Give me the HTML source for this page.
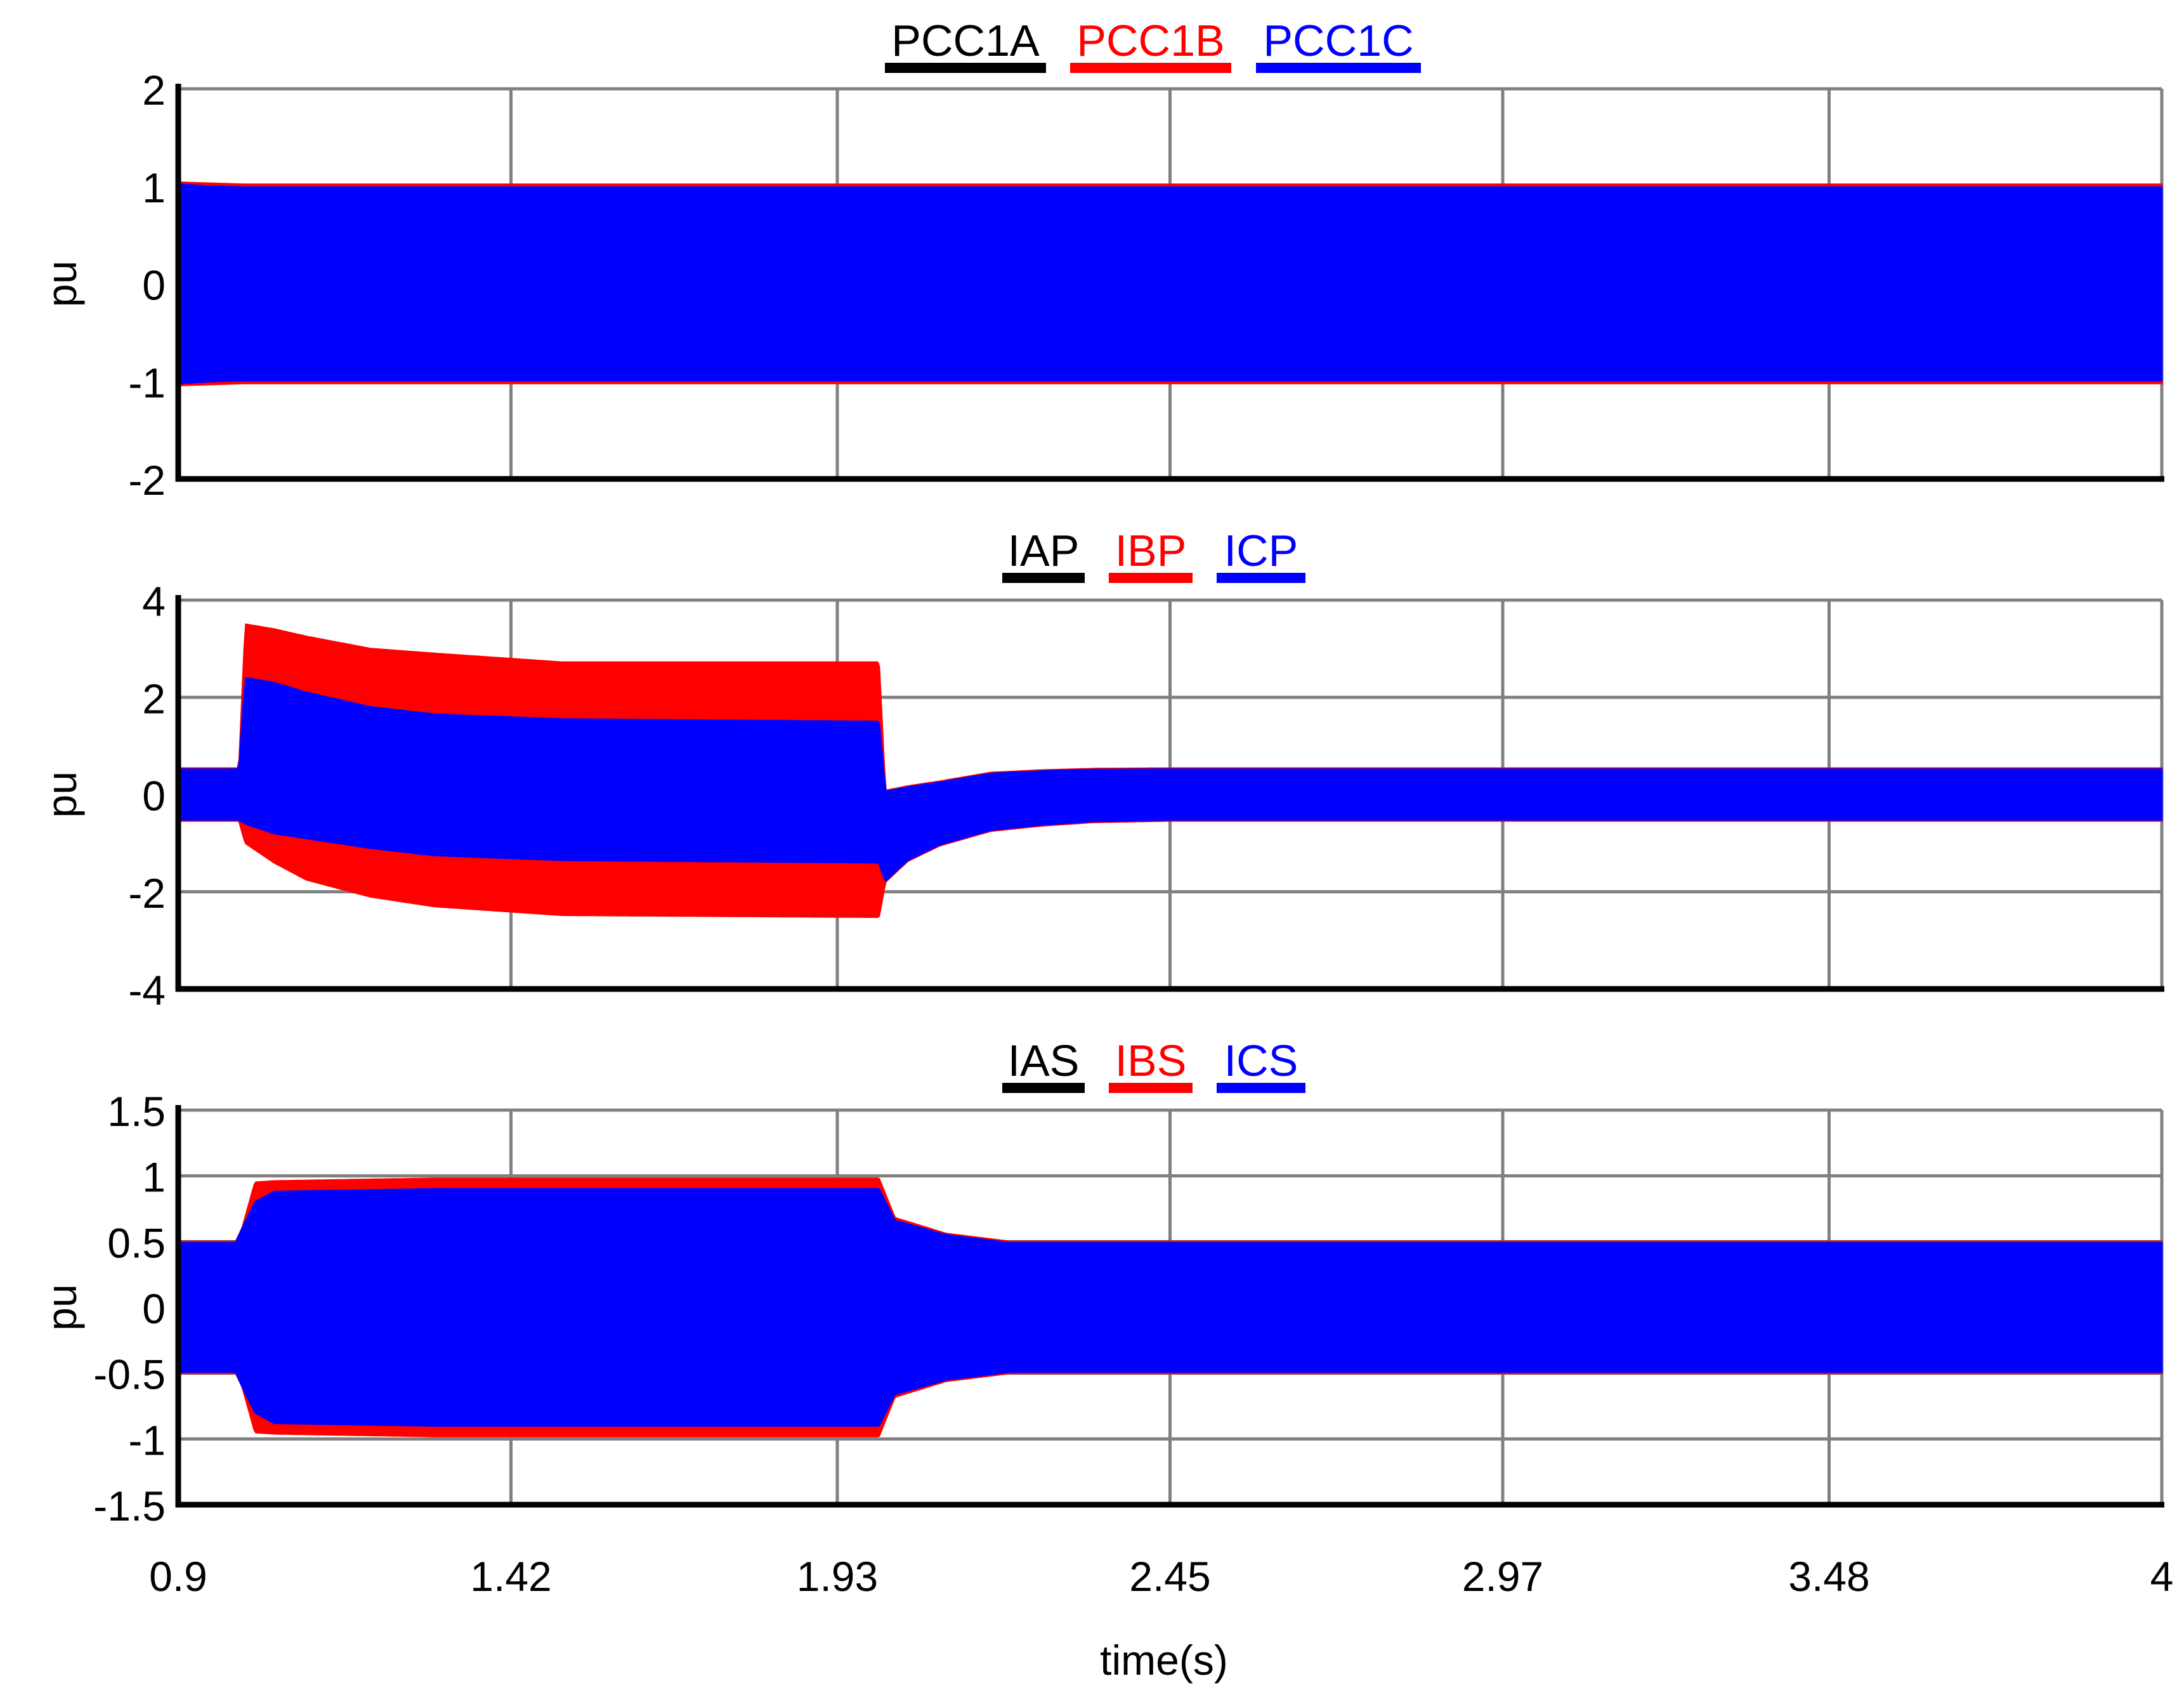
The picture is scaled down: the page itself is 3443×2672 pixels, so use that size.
<!DOCTYPE html>
<html><head><meta charset="utf-8"><style>
html,body{margin:0;padding:0;background:#fff}
svg text{font-family:"Liberation Sans",Arial,sans-serif}
</style></head><body>
<svg id="chart" xmlns="http://www.w3.org/2000/svg" width="3443" height="2667" viewBox="0 0 3443 2667">
<rect width="3443" height="2667" fill="#fff"/>
<g id="root"></g>
<text x="1835" y="2640" font-size="66" text-anchor="middle">time(s)</text>
</svg>
<script>
// x-axis
const xTicks = [0.9, 1.42, 1.93, 2.45, 2.97, 3.48, 4];
const xTickLabels = ["0.9","1.42","1.93","2.45","2.97","3.48","4"];
// Panel 1 envelopes (time, amplitude, offset)
const p1Times = [0.9, 0.95, 1.0, 4.0];
const p1AmpA = [1.02, 1.01, 1.0, 1.0];
const p1AmpB = [1.04, 1.03, 1.02, 1.02];
const p1AmpC = [1.02, 1.0, 0.99, 0.99];
const p1Off = [0, 0, 0, 0];
// Panel 2
const p2Times = [0.9, 0.995, 1.005, 1.05, 1.1, 1.2, 1.3, 1.5, 1.995, 2.005, 2.04, 2.09, 2.17, 2.25, 2.33, 2.45, 4.0];
const p2AmpA = [0.52, 0.52, 1.5, 1.55, 1.5, 1.45, 1.45, 1.45, 1.45, 0.92, 0.75, 0.64, 0.58, 0.55, 0.53, 0.52, 0.52];
const p2OffA = [0, 0, 0.9, 0.75, 0.6, 0.35, 0.2, 0.1, 0.05, -0.86, -0.6, -0.39, -0.15, -0.07, -0.02, 0, 0];
const p2AmpB = [0.54, 0.54, 2.25, 2.4, 2.5, 2.55, 2.6, 2.6, 2.62, 0.94, 0.77, 0.66, 0.6, 0.57, 0.55, 0.54, 0.54];
const p2OffB = [0, 0, 1.25, 1.0, 0.75, 0.45, 0.3, 0.12, 0.1, -0.86, -0.6, -0.39, -0.15, -0.07, -0.02, 0, 0];
const p2AmpC = [0.52, 0.52, 1.5, 1.55, 1.5, 1.45, 1.45, 1.45, 1.45, 0.92, 0.75, 0.64, 0.58, 0.55, 0.53, 0.52, 0.52];
const p2OffC = [0, 0, 0.9, 0.75, 0.6, 0.35, 0.2, 0.1, 0.05, -0.86, -0.6, -0.39, -0.15, -0.07, -0.02, 0, 0];
// Panel 3
const p3Times = [0.9, 0.99, 1.0, 1.02, 1.05, 1.3, 1.995, 2.02, 2.1, 2.2, 4.0];
const p3AmpA = [0.5, 0.5, 0.6, 0.8, 0.9, 0.92, 0.92, 0.68, 0.56, 0.5, 0.5];
const p3AmpB = [0.5, 0.5, 0.6, 0.95, 0.96, 0.98, 0.98, 0.68, 0.56, 0.5, 0.5];
const p3AmpC = [0.49, 0.49, 0.6, 0.8, 0.88, 0.9, 0.9, 0.66, 0.55, 0.49, 0.49];
const p3Off = [0, 0, 0, 0, 0, 0, 0, 0, 0, 0, 0];

const X0 = 281, X1 = 3408, T0 = 0.9, T1 = 4.0;
function xs(t){ return X0 + (t - T0) / (T1 - T0) * (X1 - X0); }
function interp(ts, vs, t){
  if (t <= ts[0]) return vs[0];
  for (let i = 1; i < ts.length; i++) if (t <= ts[i]) { const f = (t - ts[i-1]) / (ts[i] - ts[i-1]); return vs[i-1] + f * (vs[i] - vs[i-1]); }
  return vs[vs.length - 1];
}
const NS = "http://www.w3.org/2000/svg";
const root = document.getElementById('root');
function mk(tag, attrs, parent){ const e = document.createElementNS(NS, tag); for (const k in attrs) e.setAttribute(k, attrs[k]); (parent || root).appendChild(e); return e; }

const panels = [
  {name:'pcc-voltage', top:140, bot:755, ymin:-2, ymax:2, yt:[-2,-1,0,1,2], ytl:["-2","-1","0","1","2"],
   leg:[["PCC1A","#000",1395,1649],["PCC1B","#f00",1687,1941],["PCC1C","#00f",1980,2240]], legY:88, barY:99,
   series:[[p1Times,p1AmpA,p1Off,"#000"],[p1Times,p1AmpB,p1Off,"#f00"],[p1Times,p1AmpC,p1Off,"#00f"]]},
  {name:'primary-current', top:946, bot:1559, ymin:-4, ymax:4, yt:[-4,-2,0,2,4], ytl:["-4","-2","0","2","4"],
   leg:[["IAP","#000",1580,1710],["IBP","#f00",1748,1880],["ICP","#00f",1918,2058]], legY:892, barY:903,
   series:[[p2Times,p2AmpA,p2OffA,"#000"],[p2Times,p2AmpB,p2OffB,"#f00"],[p2Times,p2AmpC,p2OffC,"#00f"]]},
  {name:'secondary-current', top:1750, bot:2372, ymin:-1.5, ymax:1.5, yt:[-1.5,-1,-0.5,0,0.5,1,1.5], ytl:["-1.5","-1","-0.5","0","0.5","1","1.5"],
   leg:[["IAS","#000",1580,1710],["IBS","#f00",1748,1880],["ICS","#00f",1918,2058]], legY:1696, barY:1707,
   series:[[p3Times,p3AmpA,p3Off,"#000"],[p3Times,p3AmpB,p3Off,"#f00"],[p3Times,p3AmpC,p3Off,"#00f"]]}
];

panels.forEach((p, pi) => {
  const g = mk('g', {});
  
  
  const ys = v => p.bot - (v - p.ymin) / (p.ymax - p.ymin) * (p.bot - p.top);
  p.yt.forEach((v, i) => {
    const l = mk('line', {x1:X0, x2:X1, y1:ys(v), y2:ys(v), stroke:'#808080', 'stroke-width':5}, g);
    
    
    const t = mk('text', {x:X0 - 20, y:ys(v) + 25, 'font-size':66, 'text-anchor':'end'}, g);
    
    
    t.textContent = p.ytl[i];
  });
  xTicks.forEach(v => {
    const l = mk('line', {x1:xs(v), x2:xs(v), y1:p.top, y2:p.bot, stroke:'#808080', 'stroke-width':5}, g);
    
    
  });
  p.series.forEach((s, si) => {
    const [ts, amp, off, col] = s;
    const N = 1200;
    let up = [], lo = [];
    for (let i = 0; i <= N; i++) {
      const t = T0 + (T1 - T0) * i / N;
      const a = interp(ts, amp, t), o = interp(ts, off, t);
      up.push(xs(t).toFixed(1) + ' ' + ys(o + a).toFixed(1));
      lo.push(xs(t).toFixed(1) + ' ' + ys(o - a).toFixed(1));
    }
    const d = 'M' + up.join('L') + 'L' + lo.reverse().join('L') + 'Z';
    const path = mk('path', {d:d, fill:col, stroke:col, 'stroke-width':3}, g);
    
    
  });
  const ax = mk('path', {d:`M${X0} ${p.top-8} L${X0} ${p.bot} L${X1+4} ${p.bot}`, fill:'none', stroke:'#000', 'stroke-width':9}, g);
  
  
  const yl = mk('text', {x:0, y:0, 'font-size':66, 'text-anchor':'middle', transform:`translate(120 ${(p.top+p.bot)/2}) rotate(-90)`}, g);
  
  
  yl.textContent = 'pu';
  p.leg.forEach(L => {
    const t = mk('text', {x:(L[2]+L[3])/2, y:p.legY, 'font-size':70, 'text-anchor':'middle', fill:L[1]}, g);
    
    
    t.textContent = L[0];
    const r = mk('rect', {x:L[2], y:p.barY, width:L[3]-L[2], height:16, fill:L[1]}, g);
    
    
  });
});
xTicks.forEach((v, i) => {
  const t = mk('text', {x:xs(v), y:2508, 'font-size':66, 'text-anchor':'middle'});
  
  
  t.textContent = xTickLabels[i];
});
</script>
</body></html>
